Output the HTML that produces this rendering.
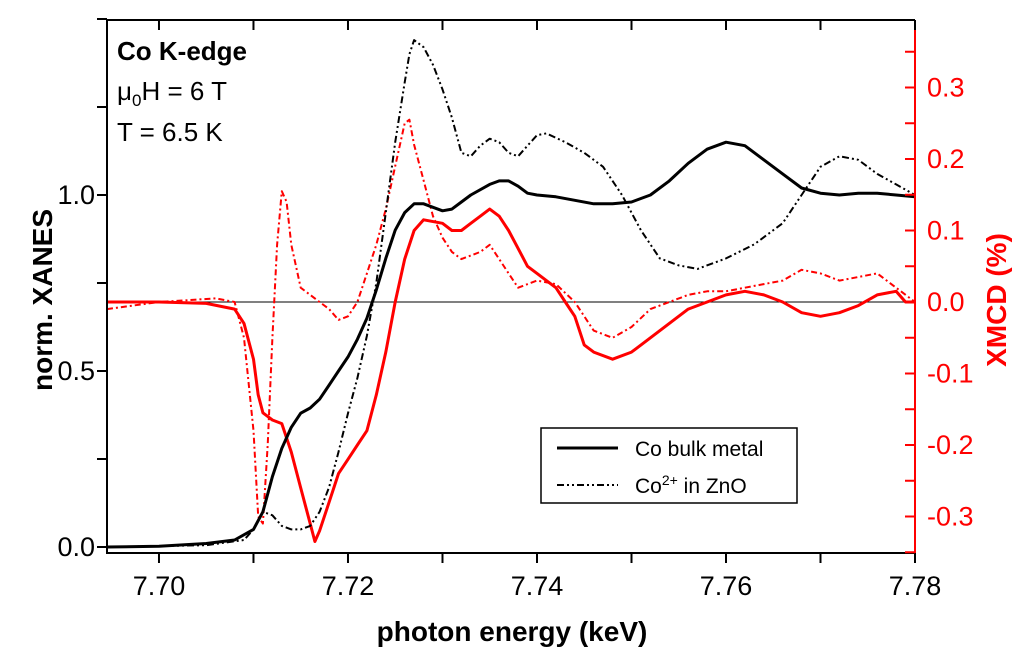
<!DOCTYPE html>
<html><head><meta charset="utf-8"><style>
body{margin:0;background:#fff}
svg{display:block;font-family:"Liberation Sans",Arial,sans-serif}
</style></head><body>
<svg id="chart" width="1024" height="657" viewBox="0 0 1024 657">
<g id="marks"></g>
<g id="axes"></g>
</svg>
<script>
// ---- data ----
const metalE = [7.6945,7.700,7.705,7.708,7.710,7.711,7.712,7.713,7.714,7.715,7.716,7.717,7.718,7.719,7.720,7.721,7.722,7.723,7.724,7.725,7.726,7.727,7.728,7.729,7.730,7.731,7.732,7.733,7.735,7.736,7.737,7.738,7.739,7.740,7.742,7.744,7.746,7.748,7.750,7.752,7.754,7.756,7.758,7.760,7.762,7.764,7.766,7.768,7.770,7.772,7.774,7.776,7.778,7.780];
const metalXanes = [0,0.002,0.01,0.02,0.05,0.1,0.2,0.28,0.34,0.38,0.395,0.42,0.46,0.5,0.54,0.59,0.65,0.73,0.82,0.9,0.95,0.975,0.975,0.965,0.955,0.96,0.98,1.0,1.03,1.04,1.04,1.025,1.005,1.0,0.995,0.985,0.975,0.975,0.98,1.0,1.04,1.09,1.13,1.15,1.14,1.1,1.06,1.02,1.005,1.0,1.005,1.005,1.0,0.995];
const znoE = [7.6945,7.705,7.709,7.710,7.711,7.712,7.713,7.714,7.715,7.716,7.717,7.718,7.719,7.720,7.721,7.722,7.723,7.724,7.725,7.726,7.7265,7.727,7.728,7.729,7.730,7.731,7.732,7.733,7.734,7.735,7.736,7.737,7.738,7.739,7.740,7.741,7.743,7.745,7.747,7.749,7.751,7.753,7.755,7.757,7.760,7.763,7.766,7.768,7.770,7.772,7.774,7.776,7.778,7.780];
const znoXanes = [0,0.005,0.02,0.05,0.1,0.09,0.06,0.05,0.05,0.06,0.1,0.17,0.27,0.38,0.48,0.6,0.75,0.95,1.15,1.32,1.4,1.44,1.42,1.37,1.3,1.22,1.12,1.11,1.14,1.16,1.15,1.12,1.11,1.14,1.17,1.175,1.15,1.12,1.08,1.0,0.9,0.82,0.8,0.79,0.82,0.86,0.92,1.0,1.08,1.11,1.1,1.06,1.03,1.0];
const metalMcdE = [7.6945,7.700,7.705,7.708,7.709,7.710,7.7105,7.711,7.7115,7.712,7.713,7.714,7.715,7.716,7.7165,7.717,7.718,7.719,7.720,7.721,7.722,7.723,7.724,7.725,7.726,7.727,7.728,7.730,7.731,7.732,7.733,7.734,7.735,7.736,7.737,7.738,7.739,7.740,7.741,7.742,7.743,7.744,7.745,7.746,7.748,7.750,7.752,7.754,7.756,7.758,7.760,7.762,7.764,7.766,7.768,7.770,7.772,7.774,7.776,7.778,7.779,7.780];
const metalMcd = [0,0,-0.002,-0.01,-0.03,-0.08,-0.13,-0.155,-0.16,-0.165,-0.17,-0.21,-0.26,-0.31,-0.335,-0.32,-0.28,-0.24,-0.22,-0.2,-0.18,-0.13,-0.07,0,0.06,0.1,0.115,0.11,0.1,0.1,0.11,0.12,0.13,0.12,0.1,0.075,0.05,0.04,0.03,0.02,0,-0.02,-0.06,-0.07,-0.08,-0.07,-0.05,-0.03,-0.01,0,0.01,0.015,0.01,0,-0.015,-0.02,-0.015,-0.005,0.01,0.015,0,0];
const znoMcdE = [7.6945,7.700,7.706,7.708,7.709,7.710,7.7105,7.711,7.7115,7.712,7.7125,7.713,7.7135,7.714,7.715,7.716,7.717,7.718,7.719,7.720,7.721,7.722,7.723,7.724,7.725,7.726,7.7265,7.727,7.728,7.729,7.730,7.731,7.732,7.734,7.735,7.736,7.737,7.738,7.740,7.742,7.744,7.746,7.748,7.750,7.752,7.754,7.756,7.758,7.760,7.762,7.764,7.766,7.768,7.770,7.772,7.774,7.776,7.778,7.780];
const znoMcd = [-0.01,0,0.005,0,-0.05,-0.18,-0.3,-0.31,-0.2,-0.05,0.08,0.155,0.14,0.08,0.02,0.01,0,-0.01,-0.025,-0.02,0,0.04,0.08,0.13,0.19,0.25,0.255,0.22,0.17,0.12,0.09,0.07,0.06,0.07,0.08,0.06,0.04,0.02,0.03,0.025,0,-0.04,-0.05,-0.035,-0.01,0,0.01,0.015,0.015,0.02,0.025,0.03,0.045,0.04,0.03,0.035,0.04,0.02,0];
const xTicks = [7.70,7.72,7.74,7.76,7.78];
const xTickLabels = ["7.70","7.72","7.74","7.76","7.78"];
const yTicks = [0,0.5,1.0];
const yTickLabels = ["0.0","0.5","1.0"];
const y2Ticks = [0.3,0.2,0.1,0,-0.1,-0.2,-0.3];
const y2TickLabels = ["0.3","0.2","0.1","0.0","-0.1","-0.2","-0.3"];

// ---- scales ----
const L=107,R=915,T=20,B=553;
const X0=7.6945,X1=7.78;
const x = e => L + (e-X0)/(X1-X0)*(R-L);
const y = v => 547 - v*352;
const y2 = v => 302 - v*715;
const NS="http://www.w3.org/2000/svg";
const marks=document.getElementById('marks'), axes=document.getElementById('axes');
function mk(tag,parent,attrs){const el=document.createElementNS(NS,tag);for(const k in attrs)el.setAttribute(k,attrs[k]);parent.appendChild(el);return el;}
function path(xs,vs,sc){return xs.map((e,i)=>(i?'L':'M')+x(e).toFixed(1)+','+sc(vs[i]).toFixed(1)).join(' ');}

let zl=mk('line',marks,{x1:L,x2:R,y1:y2(0),y2:y2(0),stroke:'#000','stroke-width':1});



let p;
p=mk('path',marks,{d:path(znoMcdE,znoMcd,y2),fill:'none',stroke:'#f00','stroke-width':2,'stroke-dasharray':'6,3,2,3','stroke-linejoin':'round'});


p=mk('path',marks,{d:path(metalMcdE,metalMcd,y2),fill:'none',stroke:'#f00','stroke-width':3,'stroke-linejoin':'round'});


p=mk('path',marks,{d:path(znoE,znoXanes,y),fill:'none',stroke:'#000','stroke-width':2,'stroke-dasharray':'7,3,2,3,2,3','stroke-linejoin':'round'});


p=mk('path',marks,{d:path(metalE,metalXanes,y),fill:'none',stroke:'#000','stroke-width':3,'stroke-linejoin':'round'});



let f=mk('path',axes,{d:`M${R},${T} L${L},${T} L${L},${B} L${R},${B}`,fill:'none',stroke:'#000','stroke-width':2});


let ra=mk('line',axes,{x1:R,x2:R,y1:T,y2:B,stroke:'#f00','stroke-width':2});



for(let v=7.70;v<=7.7801;v+=0.01){
  const t=mk('line',axes,{x1:x(v),x2:x(v),y1:B,y2:B+10,stroke:'#000','stroke-width':2});
  
  
  const t2=mk('line',axes,{x1:x(v),x2:x(v),y1:T,y2:T+10,stroke:'#000','stroke-width':2});
  
  
}
xTicks.forEach((v,i)=>{const t=mk('text',axes,{x:x(v),y:B+42,'text-anchor':'middle','font-size':27,fill:'#000'});t.textContent=xTickLabels[i];

});
for(let v=0;v<=1.5001;v+=0.25){
  const t=mk('line',axes,{x1:L-10,x2:L,y1:y(v),y2:y(v),stroke:'#000','stroke-width':2});
  
  
}
yTicks.forEach((v,i)=>{const t=mk('text',axes,{x:L-12,y:y(v)+9,'text-anchor':'end','font-size':27,fill:'#000'});t.textContent=yTickLabels[i];

});
for(let v=-0.35;v<=0.3501;v+=0.05){
  if(y2(v)<T||y2(v)>B)continue;
  const t=mk('line',axes,{x1:R-10,x2:R,y1:y2(v),y2:y2(v),stroke:'#f00','stroke-width':2});
  
  
}
y2Ticks.forEach((v,i)=>{const t=mk('text',axes,{x:R+12,y:y2(v)+9,'text-anchor':'start','font-size':27,fill:'#f00'});t.textContent=y2TickLabels[i];

});
</script>
<svg style="position:absolute;left:0;top:0" width="1024" height="657">
<text x="512" y="641" text-anchor="middle" font-size="28" font-weight="bold" font-family="Liberation Sans, sans-serif">photon energy (keV)</text>
<text transform="translate(52,300) rotate(-90)" text-anchor="middle" font-size="28" font-weight="bold" font-family="Liberation Sans, sans-serif">norm. XANES</text>
<text transform="translate(1006,300) rotate(-90)" text-anchor="middle" font-size="28" font-weight="bold" fill="#f00" font-family="Liberation Sans, sans-serif">XMCD (%)</text>
<text x="117" y="60" font-size="26" font-weight="bold" font-family="Liberation Sans, sans-serif">Co K-edge</text>
<text x="117" y="100" font-size="26" font-family="Liberation Sans, sans-serif">μ<tspan font-size="17" dy="6">0</tspan><tspan dy="-6">H = 6 T</tspan></text>
<text x="117" y="141" font-size="26" font-family="Liberation Sans, sans-serif">T = 6.5 K</text>
<g>
<rect x="541" y="428" width="256" height="75" fill="#fff" stroke="#000" stroke-width="1.5"/>
<line x1="557" x2="618" y1="448" y2="448" stroke="#000" stroke-width="3"/>
<text x="635" y="456" font-size="21" font-family="Liberation Sans, sans-serif">Co bulk metal</text>
<line x1="557" x2="618" y1="485" y2="485" stroke="#000" stroke-width="2" stroke-dasharray="7,3,2,3,2,3"/>
<text x="635" y="493" font-size="21" font-family="Liberation Sans, sans-serif">Co<tspan font-size="14" dy="-8">2+</tspan><tspan dy="8"> in ZnO</tspan></text>
</g>
</svg>
</body></html>
